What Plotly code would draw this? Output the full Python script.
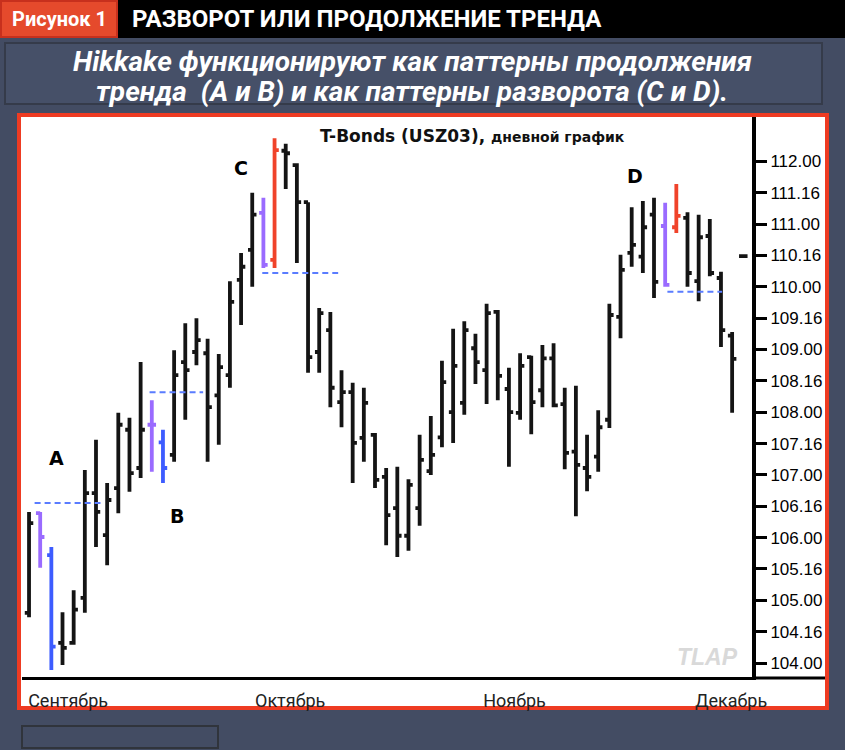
import plotly.graph_objects as go

# ---------------- data ----------------
opens = [104.80, 106.39, 105.72, 104.32, 104.32, 105.04, 106.71, 106.04, 106.79, 107.72,
         107.11, 107.80, 107.52, 107.32, 108.80, 108.96, 108.94, 108.27, 108.59, 110.11,
         110.59, 111.18, 110.43, 112.17, 111.94, 111.35, 108.96, 109.31, 108.16, 108.32,
         107.59, 107.64, 106.97, 106.47, 106.03, 106.47, 107.06, 107.60, 108.00, 108.15,
         109.02, 108.67, 109.60, 108.37, 107.99, 108.88, 108.35, 108.86, 108.13, 107.37,
         107.11, 107.29, 107.88, 109.52, 110.54, 110.48, 111.15, 110.97, 110.95, 111.10,
         110.09, 110.81, 110.14, 109.22, 110.49]
highs = [106.41, 106.41, 105.85, 104.81, 105.16, 107.08, 107.56, 106.87, 107.99, 107.91,
         108.80, 108.19, 107.72, 108.99, 109.42, 109.50, 109.17, 108.93, 110.09, 110.54,
         111.50, 111.42, 112.37, 112.28, 111.97, 111.35, 109.66, 109.60, 108.67, 108.47,
         108.39, 107.67, 107.11, 107.13, 106.93, 107.64, 107.94, 108.82, 109.33, 109.45,
         109.25, 109.73, 109.63, 108.71, 108.94, 108.90, 109.07, 109.10, 108.39, 108.42,
         107.64, 108.03, 109.73, 110.51, 111.27, 111.37, 111.42, 111.34, 111.64, 111.19,
         111.15, 111.08, 110.24, 109.28, 110.52]
lows = [104.73, 105.52, 103.89, 103.97, 104.29, 104.80, 105.85, 105.56, 106.39, 106.73,
        106.95, 107.05, 106.87, 107.21, 107.88, 108.75, 107.21, 107.48, 108.39, 109.39,
        110.00, 110.30, 110.30, 111.56, 110.38, 108.63, 108.63, 108.08, 107.76, 106.87,
        107.21, 106.79, 105.88, 105.69, 105.79, 106.19, 107.00, 107.44, 107.51, 107.96,
        108.45, 108.13, 108.19, 107.13, 107.88, 107.65, 108.08, 108.08, 107.09, 106.34,
        106.74, 107.05, 107.75, 109.18, 110.32, 110.22, 109.82, 110.00, 110.86, 110.00,
        109.77, 110.17, 109.04, 107.99, 110.46]
closes = [106.23, 106.01, 104.26, 104.24, 104.85, 106.71, 106.41, 106.60, 107.80, 107.03,
          107.72, 107.80, 107.11, 108.59, 108.67, 109.15, 108.08, 108.72, 109.76, 110.32,
          111.15, 110.35, 112.18, 112.13, 111.35, 108.88, 109.58, 108.39, 108.32, 107.51,
          108.15, 106.92, 106.36, 106.03, 106.84, 107.24, 107.32, 108.48, 108.74, 109.31,
          108.80, 109.58, 108.58, 108.00, 108.74, 108.16, 108.86, 108.11, 107.35, 107.16,
          106.97, 107.76, 109.55, 110.27, 110.67, 110.95, 110.08, 110.03, 111.13, 110.22,
          110.79, 110.22, 109.31, 108.85, 110.49]
# bar role: k = normal, v = inside bar, b = false breakout (continuation), r = false breakout (reversal)
roles = ["k", "v", "b", "k", "k", "k", "k", "k", "k", "k",
         "k", "v", "b", "k", "k", "k", "k", "k", "k", "k",
         "k", "v", "r", "k", "k", "k", "k", "k", "k", "k",
         "k", "k", "k", "k", "k", "k", "k", "k", "k", "k",
         "k", "k", "k", "k", "k", "k", "k", "k", "k", "k",
         "k", "k", "k", "k", "k", "k", "k", "v", "r", "k",
         "k", "k", "k", "k", "k"]

# dashed trigger lines: label, level, start index, end index
level_names = ["A", "B", "C", "D"]
level_values = [106.55, 108.32, 110.22, 109.92]
level_start = [0.5, 10.8, 20.9, 57.2]
level_end = [6.4, 15.6, 27.7, 62.1]

# pattern letters
letter_names = ["A", "B", "C", "D"]
letter_x = [2.5, 13.3, 19.0, 54.3]
letter_y = [107.27, 106.34, 111.89, 111.77]

month_labels = ["Сентябрь", "Октябрь", "Ноябрь", "Декабрь"]
month_pos = [3.5, 23.4, 43.5, 62.9]

ytick_vals = [104.0, 104.5, 105.0, 105.5, 106.0, 106.5, 107.0, 107.5, 108.0,
              108.5, 109.0, 109.5, 110.0, 110.5, 111.0, 111.5, 112.0]
ytick_text = ["104.00", "104.16", "105.00", "105.16", "106.00", "106.16", "107.00", "107.16",
              "108.00", "108.16", "109.00", "109.16", "110.00", "110.16", "111.00", "111.16",
              "112.00"]

# ---------------- figure ----------------
W, H = 845, 750
L, R, T, B = 22, 752, 117, 677


def px(x):
    return (x - L) / (R - L)


def py(y):
    return (B - y) / (B - T)


role_colors = {"k": "#141414", "v": "#9a6bff", "b": "#3d5cff", "r": "#f0432a"}

fig = go.Figure()
idx = list(range(len(opens)))
for role, col in role_colors.items():
    sel = [i for i in idx if roles[i] == role]
    fig.add_trace(go.Ohlc(
        x=sel,
        open=[opens[i] for i in sel],
        high=[highs[i] for i in sel],
        low=[lows[i] for i in sel],
        close=[closes[i] for i in sel],
        increasing=dict(line=dict(color=col, width=3.8)),
        decreasing=dict(line=dict(color=col, width=3.8)),
        tickwidth=0.38,
        showlegend=False,
        hoverinfo="skip",
    ))

for name, v, s, e in zip(level_names, level_values, level_start, level_end):
    fig.add_trace(go.Scatter(
        x=[s, e], y=[v, v], mode="lines",
        line=dict(color="#5a7cff", width=2, dash="6px,4px"),
        showlegend=False, hoverinfo="skip", name=name,
    ))

shapes = []
# top black bar
shapes.append(dict(type="rect", xref="paper", yref="paper", layer="below",
                   x0=px(0), x1=px(845), y0=py(0), y1=py(38),
                   fillcolor="#000000", line=dict(width=0)))
# red label box
shapes.append(dict(type="rect", xref="paper", yref="paper", layer="below",
                   x0=px(1), x1=px(117), y0=py(1), y1=py(37),
                   fillcolor="#e54a2c", line=dict(color="#c7301d", width=2)))
# subtitle box
shapes.append(dict(type="rect", xref="paper", yref="paper", layer="below",
                   x0=px(5), x1=px(822), y0=py(43), y1=py(104),
                   fillcolor="#465068", line=dict(color="#353b4a", width=2)))
# white chart panel with red border
shapes.append(dict(type="rect", xref="paper", yref="paper", layer="below",
                   x0=px(19), x1=px(827), y0=py(115), y1=py(708),
                   fillcolor="#ffffff", line=dict(color="#ee3b22", width=4)))
# bottom line continues under the price scale
shapes.append(dict(type="line", xref="paper", yref="paper", layer="above",
                   x0=px(752), x1=px(825), y0=py(678), y1=py(678),
                   line=dict(color="#000000", width=3)))
# small empty box bottom-left
shapes.append(dict(type="rect", xref="paper", yref="paper", layer="below",
                   x0=px(22), x1=px(218), y0=py(726), y1=py(748),
                   fillcolor="#434c63", line=dict(color="#30343c", width=2)))

annotations = []
annotations.append(dict(xref="paper", yref="paper", x=px(59), y=py(19),
                        text="<b>Рисунок 1</b>", showarrow=False,
                        font=dict(family="Roboto", size=20, color="#ffffff"),
                        xanchor="center", yanchor="middle"))
annotations.append(dict(xref="paper", yref="paper", x=px(130), y=py(19),
                        text="<b>РАЗВОРОТ ИЛИ ПРОДОЛЖЕНИЕ ТРЕНДА</b>", showarrow=False,
                        font=dict(family="Roboto", size=24, color="#ffffff"),
                        xanchor="left", yanchor="middle"))
annotations.append(dict(xref="paper", yref="paper", x=px(412), y=py(62),
                        text="<b><i>Hikkake функционируют как паттерны продолжения</i></b>",
                        showarrow=False,
                        font=dict(family="Roboto", size=28, color="#ffffff"),
                        xanchor="center", yanchor="middle"))
annotations.append(dict(xref="paper", yref="paper", x=px(412), y=py(92),
                        text="<b><i>тренда  (A и B) и как паттерны разворота (C и D).</i></b>",
                        showarrow=False,
                        font=dict(family="Roboto", size=28, color="#ffffff"),
                        xanchor="center", yanchor="middle"))
annotations.append(dict(xref="paper", yref="paper", x=px(318), y=py(136),
                        text="<b>T-Bonds (USZ03), </b><b><span style='font-size:14px'>дневной график</span></b>",
                        showarrow=False,
                        font=dict(family="DejaVu Sans", size=17, color="#111111"),
                        xanchor="left", yanchor="middle"))
for n, x, y in zip(letter_names, letter_x, letter_y):
    annotations.append(dict(xref="x", yref="y", x=x, y=y, text="<b>%s</b>" % n,
                            showarrow=False,
                            font=dict(family="DejaVu Sans", size=19, color="#000000"),
                            xanchor="center", yanchor="middle"))
annotations.append(dict(xref="paper", yref="paper", x=px(707), y=py(657),
                        text="<b><i>TLAP</i></b>", showarrow=False,
                        font=dict(family="Liberation Sans", size=23, color="#d9d9d9"),
                        xanchor="center", yanchor="middle"))

fig.update_layout(
    width=W, height=H,
    margin=dict(l=L, r=W - R, t=T, b=H - B, pad=0),
    paper_bgcolor="#434c63",
    plot_bgcolor="#ffffff",
    shapes=shapes,
    annotations=annotations,
    showlegend=False,
    xaxis=dict(
        range=[-0.63, 64.78],
        rangeslider=dict(visible=False),
        showgrid=False, zeroline=False,
        showline=True, linecolor="#000000", linewidth=3,
        tickmode="array", tickvals=month_pos, ticktext=month_labels,
        ticks="outside", ticklen=5, tickcolor="rgba(0,0,0,0)",
        tickfont=dict(family="Roboto", size=18, color="#222222"),
        fixedrange=True,
    ),
    yaxis=dict(
        range=[103.777, 112.708],
        side="right",
        showgrid=False, zeroline=False,
        showline=True, linecolor="#000000", linewidth=4,
        tickmode="array", tickvals=ytick_vals, ticktext=ytick_text,
        ticks="outside", ticklen=11, tickwidth=3, tickcolor="#000000",
        tickfont=dict(family="Liberation Sans", size=17, color="#000000"),
        fixedrange=True,
    ),
)

fig.write_html("out.html")
